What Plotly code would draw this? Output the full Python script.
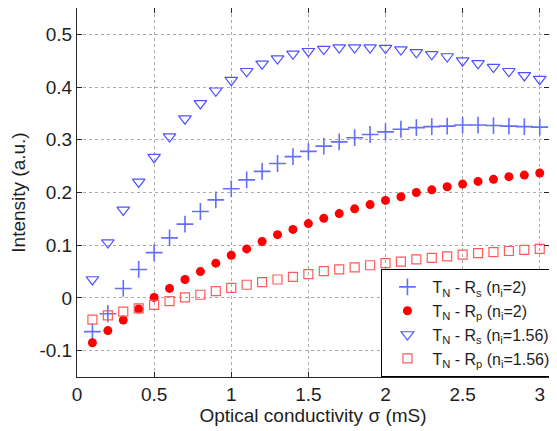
import plotly.graph_objects as go

x_vals = [round(0.1 * i, 1) for i in range(1, 31)]

rs_n2 = [-0.064, -0.030, 0.018, 0.054, 0.086, 0.114, 0.140, 0.164, 0.186, 0.207,
         0.224, 0.240, 0.255, 0.268, 0.278, 0.288, 0.296, 0.304, 0.310, 0.315,
         0.320, 0.323, 0.325, 0.326, 0.328, 0.328, 0.327, 0.326, 0.325, 0.324]
rp_n2 = [-0.085, -0.062, -0.042, -0.021, 0.001, 0.018, 0.035, 0.050, 0.066, 0.081,
         0.093, 0.107, 0.120, 0.130, 0.141, 0.151, 0.160, 0.169, 0.177, 0.185,
         0.192, 0.200, 0.205, 0.211, 0.216, 0.221, 0.225, 0.230, 0.233, 0.237]
rs_n156 = [0.035, 0.105, 0.167, 0.220, 0.267, 0.306, 0.340, 0.369, 0.393, 0.413,
           0.430, 0.444, 0.454, 0.463, 0.468, 0.472, 0.475, 0.475, 0.475, 0.474,
           0.471, 0.466, 0.462, 0.458, 0.450, 0.445, 0.438, 0.430, 0.422, 0.415]
rp_n156 = [-0.041, -0.033, -0.026, -0.020, -0.013, -0.006, 0.001, 0.006, 0.013, 0.019,
           0.025, 0.030, 0.035, 0.040, 0.045, 0.051, 0.054, 0.058, 0.062, 0.066,
           0.069, 0.073, 0.076, 0.079, 0.082, 0.085, 0.087, 0.089, 0.091, 0.093]

x_ticks = [0, 0.5, 1, 1.5, 2, 2.5, 3]
x_ticktext = ["0", "0.5", "1", "1.5", "2", "2.5", "3"]
y_ticks = [-0.1, 0, 0.1, 0.2, 0.3, 0.4, 0.5]
y_ticktext = ["-0.1", "0", "0.1", "0.2", "0.3", "0.4", "0.5"]

names = [
    "T<sub>N</sub> - R<sub>s</sub> (n<sub>i</sub>=2)",
    "T<sub>N</sub> - R<sub>p</sub> (n<sub>i</sub>=2)",
    "T<sub>N</sub> - R<sub>s</sub> (n<sub>i</sub>=1.56)",
    "T<sub>N</sub> - R<sub>p</sub> (n<sub>i</sub>=1.56)",
]

fig = go.Figure()
fig.add_trace(go.Scatter(x=x_vals, y=rs_n2, mode="markers", name=names[0],
                         marker=dict(symbol="cross-thin-open", size=12,
                                     line=dict(color="rgb(0,0,255)", width=1.6))))
fig.add_trace(go.Scatter(x=x_vals, y=rp_n2, mode="markers", name=names[1],
                         marker=dict(symbol="circle", size=9, color="rgb(255,0,0)",
                                     line=dict(width=0))))
fig.add_trace(go.Scatter(x=x_vals, y=rs_n156, mode="markers", name=names[2],
                         marker=dict(symbol="triangle-down-open", size=11,
                                     color="rgb(80,80,255)",
                                     line=dict(color="rgb(80,80,255)", width=1.2))))
fig.add_trace(go.Scatter(x=x_vals, y=rp_n156, mode="markers", name=names[3],
                         marker=dict(symbol="square-open", size=9,
                                     color="rgb(255,90,90)",
                                     line=dict(color="rgb(255,90,90)", width=1.2))))

axis_common = dict(
    showgrid=True, gridcolor="rgb(170,170,170)", griddash="dot", gridwidth=1,
    zeroline=False, showline=True, linecolor="rgb(40,40,40)", linewidth=1,
    mirror="ticks", ticks="inside", ticklen=5, tickcolor="rgb(40,40,40)",
    tickfont=dict(size=19, color="rgb(30,30,30)"),
)

# the page body has an 8px margin, so the figure is shrunk to fit the window
fig.update_layout(
    width=549, height=423,
    margin=dict(l=69, r=8, t=0, b=54),
    paper_bgcolor="white", plot_bgcolor="white",
    font=dict(family="Liberation Sans, Arial, sans-serif", color="rgb(30,30,30)"),
    xaxis=dict(range=[0, 3.06], tickvals=x_ticks, ticktext=x_ticktext,
               title=dict(text="Optical conductivity σ (mS)", font=dict(size=19), standoff=4),
               automargin=False, **axis_common),
    yaxis=dict(range=[-0.15, 0.55], tickvals=y_ticks, ticktext=y_ticktext,
               title=dict(text="Intensity (a.u.)", font=dict(size=19), standoff=8),
               automargin=False, **axis_common),
    legend=dict(x=0.645, y=0, xanchor="left", yanchor="bottom",
                bgcolor="white", bordercolor="black", borderwidth=1,
                font=dict(size=16), tracegroupgap=0, itemwidth=40),
    showlegend=True,
)

fig.write_html("out.html")
